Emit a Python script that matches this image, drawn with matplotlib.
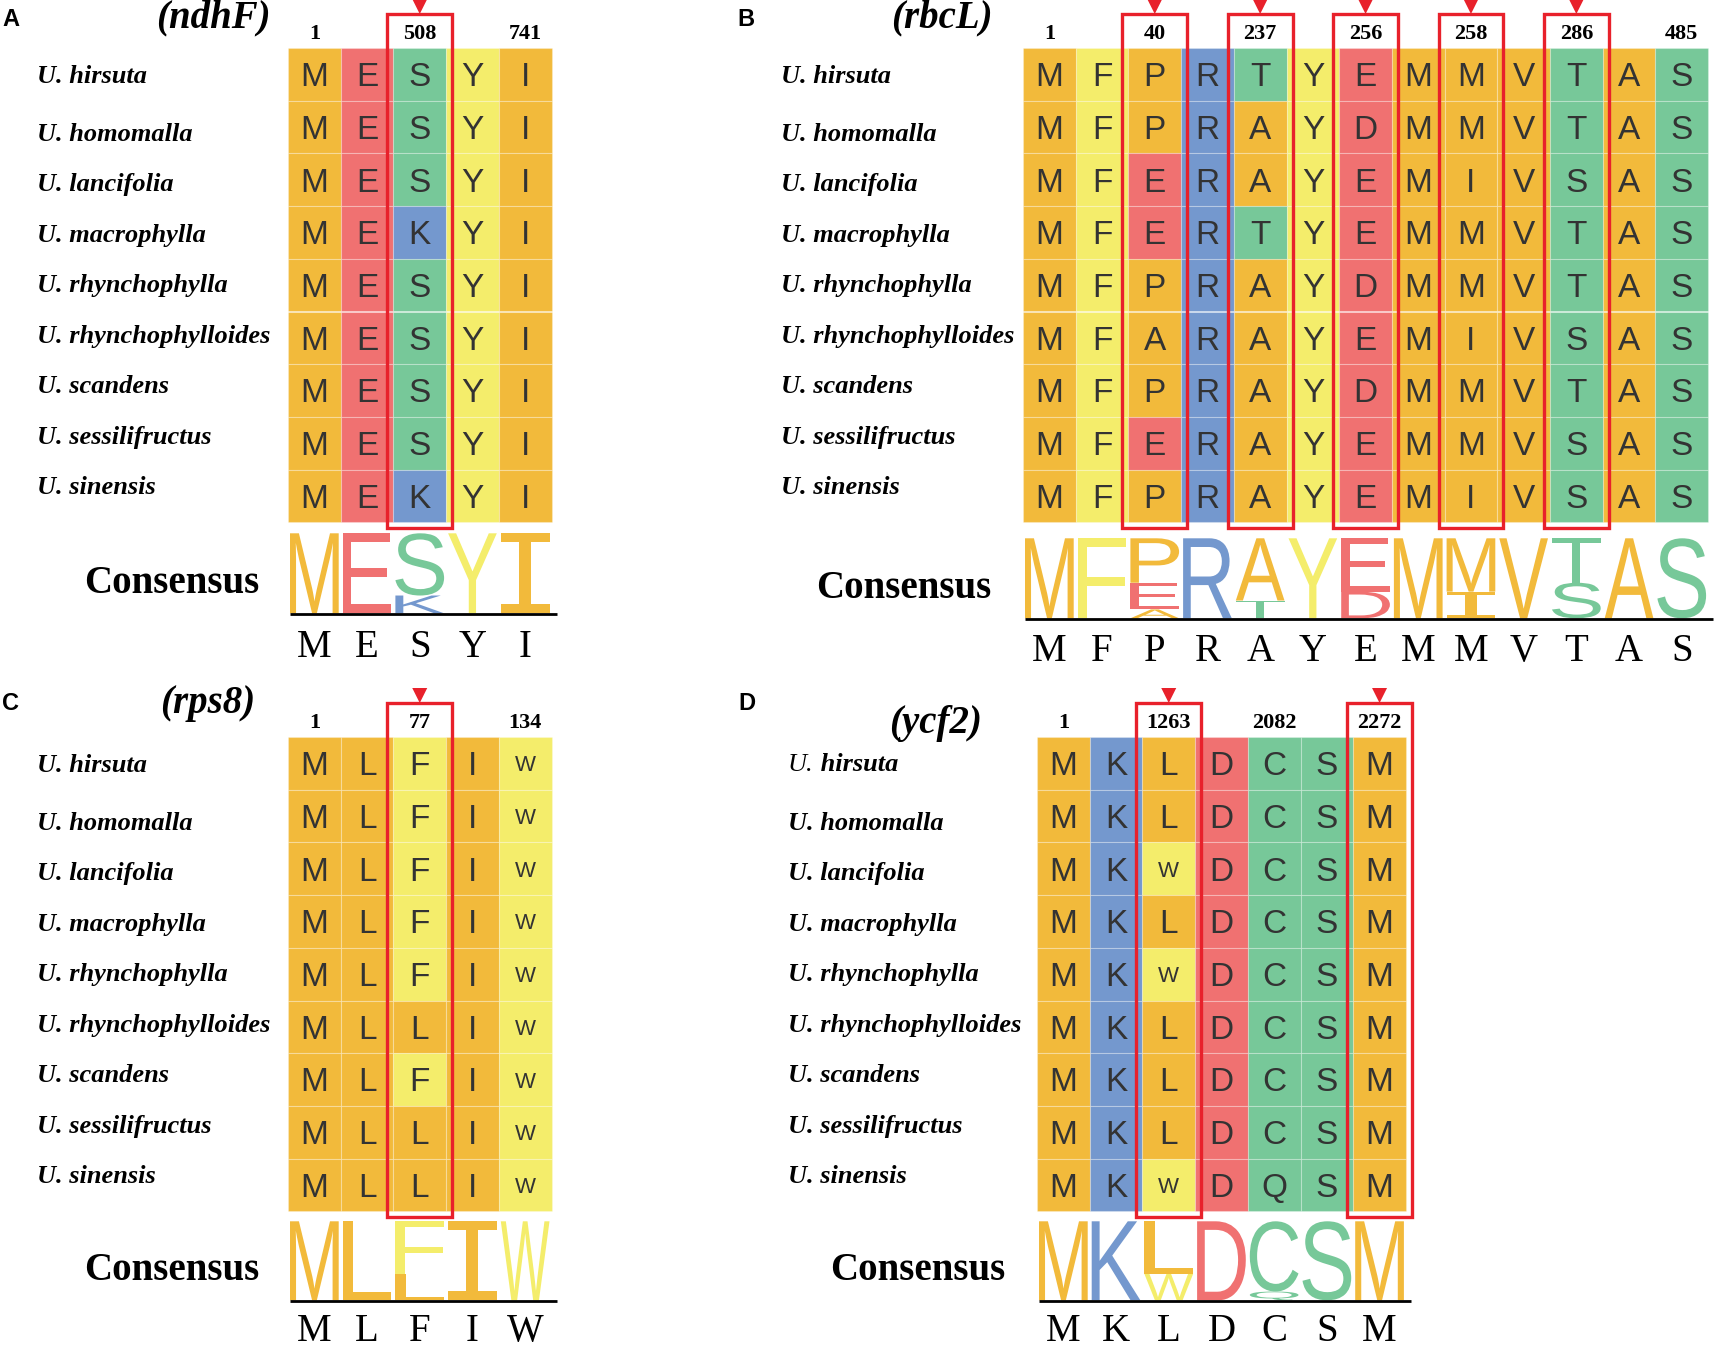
import matplotlib
matplotlib.use("Agg")
import matplotlib.pyplot as plt
from matplotlib.patches import Rectangle, Polygon, PathPatch
from matplotlib.textpath import TextPath
from matplotlib.font_manager import FontProperties
from matplotlib.transforms import Affine2D
from collections import Counter

# ---------------- data ----------------
species = ["hirsuta", "homomalla", "lancifolia", "macrophylla", "rhynchophylla",
           "rhynchophylloides", "scandens", "sessilifructus", "sinensis"]

ndhF_seqs = ["MESYI", "MESYI", "MESYI", "MEKYI", "MESYI",
             "MESYI", "MESYI", "MESYI", "MEKYI"]
ndhF_pos = {0: "1", 2: "508", 4: "741"}
ndhF_marked = [2]

rbcL_seqs = ["MFPRTYEMMVTAS", "MFPRAYDMMVTAS", "MFERAYEMIVSAS",
             "MFERTYEMMVTAS", "MFPRAYDMMVTAS", "MFARAYEMIVSAS",
             "MFPRAYDMMVTAS", "MFERAYEMMVSAS", "MFPRAYEMIVSAS"]
rbcL_pos = {0: "1", 2: "40", 4: "237", 6: "256", 8: "258", 10: "286", 12: "485"}
rbcL_marked = [2, 4, 6, 8, 10]

rps8_seqs = ["MLFIW", "MLFIW", "MLFIW", "MLFIW", "MLFIW",
             "MLLIW", "MLFIW", "MLLIW", "MLLIW"]
rps8_pos = {0: "1", 2: "77", 4: "134"}
rps8_marked = [2]

ycf2_seqs = ["MKLDCSM", "MKLDCSM", "MKWDCSM", "MKLDCSM", "MKWDCSM",
             "MKLDCSM", "MKLDCSM", "MKLDCSM", "MKWDQSM"]
ycf2_pos = {0: "1", 2: "1263", 4: "2082", 6: "2272"}
ycf2_marked = [2, 6]

# residue colours
ORANGE, RED, GREEN, YELLOW, BLUE = "#F2BA3B", "#F07171", "#77C899", "#F4ED6B", "#7498CE"
aa_color = {}
for a in "MILAPV":
    aa_color[a] = ORANGE
for a in "ED":
    aa_color[a] = RED
for a in "STCQ":
    aa_color[a] = GREEN
for a in "YFW":
    aa_color[a] = YELLOW
for a in "KR":
    aa_color[a] = BLUE

# ---------------- layout (pixel units) ----------------
CELL = 52.7
panels = [
    dict(label="A", lab_xy=(2, 20), title="(ndhF)", title_xy=(213, 18), seqs=ndhF_seqs,
         pos=ndhF_pos, marked=ndhF_marked, left=288, top=48, name_x=37, cons_x=259,
         logo_gap=11, logo_h=80, letter_off=44),
    dict(label="B", lab_xy=(737, 20), title="(rbcL)", title_xy=(942, 18), seqs=rbcL_seqs,
         pos=rbcL_pos, marked=rbcL_marked, left=1023, top=48, name_x=781, cons_x=991,
         logo_gap=16, logo_h=80, letter_off=43),
    dict(label="C", lab_xy=(2, 703), title="(rps8)", title_xy=(208, 703), seqs=rps8_seqs,
         pos=rps8_pos, marked=rps8_marked, left=288, top=737, name_x=37, cons_x=259,
         logo_gap=10, logo_h=79, letter_off=41),
    dict(label="D", lab_xy=(738, 703), title="(ycf2)", title_xy=(936, 723), seqs=ycf2_seqs,
         pos=ycf2_pos, marked=ycf2_marked, left=1037, top=737, name_x=788, cons_x=1005,
         logo_gap=10, logo_h=79, letter_off=41),
]

SERIF = "Liberation Serif"
SANS = "Liberation Sans"
BOX_RED = "#E8212B"
logo_font = FontProperties(family=SANS)
logo_font_I = FontProperties(family="DejaVu Sans Mono")


def px(fs):
    return fs * 100 / 72.0


def glyph(ax, letter, x0, y_bot, w, h, color):
    fp = logo_font_I if letter == "I" else logo_font
    tp = TextPath((0, 0), letter, size=100, prop=fp)
    bb = tp.get_extents()
    tr = (Affine2D().translate(-bb.x0, -bb.y0)
          .scale(w / bb.width, -h / bb.height).translate(x0, y_bot))
    ax.add_patch(PathPatch(tr.transform_path(tp), fc=color, ec="none", lw=0))


fig = plt.figure(figsize=(17.17, 13.51), dpi=100)
ax = fig.add_axes([0, 0, 1, 1])
ax.set_xlim(0, 1717)
ax.set_ylim(1351, 0)
ax.axis("off")

for p in panels:
    seqs = p["seqs"]
    ncol = len(seqs[0])
    nrow = len(seqs)
    left, top = p["left"], p["top"]
    bottom = top + nrow * CELL

    ax.text(p["lab_xy"][0], p["lab_xy"][1], p["label"], family=SANS, weight="bold",
            fontsize=17, ha="left", va="center")
    ax.text(p["title_xy"][0], p["title_xy"][1], p["title"], family=SERIF, weight="bold",
            style="italic", fontsize=28, ha="center", va="center")

    # position numbers
    for j, num in p["pos"].items():
        ax.text(left + (j + 0.5) * CELL, top - 9, num, family=SERIF, weight="bold",
                fontsize=16, ha="center", va="baseline")

    # alignment cells
    for i, s in enumerate(seqs):
        for j, a in enumerate(s):
            x = left + j * CELL
            y = top + i * CELL
            ax.add_patch(Rectangle((x, y), CELL, CELL, fc=aa_color[a],
                                   ec=(1, 1, 1, 0.25), lw=0.8))
            fs = 16 if a == "W" else 24
            ax.text(x + CELL / 2, y + CELL / 2 + px(fs) * 0.716 / 2, a, family=SANS,
                    fontsize=fs, color="#333333", ha="center", va="baseline")

    # species names (first label sits a bit higher than the rest)
    for i, sp in enumerate(species):
        if i == 0:
            y = top + 0.54 * CELL
        else:
            y = top + 1.64 * CELL + (i - 1) * 0.957 * CELL
        if p["label"] == "D" and i == 0:
            t = ax.text(p["name_x"], y, "U.", family=SERIF, style="italic",
                        fontsize=19, ha="left", va="center")
            ax.annotate(" " + sp, xy=(1, 0), xycoords=t, family=SERIF, style="italic",
                        weight="bold", fontsize=19, ha="left", va="bottom")
        else:
            ax.text(p["name_x"], y, "U. " + sp, family=SERIF, style="italic",
                    weight="bold", fontsize=19, ha="left", va="center")

    # red boxes on variable sites
    box_top = top - 34
    for j in p["marked"]:
        x = left + j * CELL
        ax.add_patch(Rectangle((x - 6, box_top), CELL + 12, bottom + 6 - box_top,
                               fill=False, ec=BOX_RED, lw=2.4, zorder=5))
        cx = x + CELL / 2
        ax.add_patch(Polygon([(cx - 7.5, box_top - 15), (cx + 7.5, box_top - 15),
                              (cx, box_top)], closed=True, fc=BOX_RED, ec="none",
                             zorder=5))

    # consensus logo
    base = bottom + p["logo_gap"] + p["logo_h"]
    consensus = []
    for j in range(ncol):
        counts = Counter(s[j] for s in seqs)
        consensus.append(counts.most_common(1)[0][0])
        y_bot = base
        for a, c in sorted(counts.items(), key=lambda kv: kv[1]):
            h = c / nrow * p["logo_h"]
            glyph(ax, a, left + j * CELL + 2, y_bot, CELL - 4, h, aa_color[a])
            y_bot -= h
    ax.plot([left + 2, left + ncol * CELL + 5], [base + 1, base + 1], color="black",
            lw=2.0, solid_capstyle="butt")
    ax.text(p["cons_x"], base - 20, "Consensus", family=SERIF, weight="bold",
            fontsize=28, ha="right", va="baseline")
    for j, a in enumerate(consensus):
        ax.text(left + (j + 0.5) * CELL, base + p["letter_off"], a, family=SERIF,
                fontsize=28, ha="center", va="baseline")

fig.savefig("out.png", dpi=100)
